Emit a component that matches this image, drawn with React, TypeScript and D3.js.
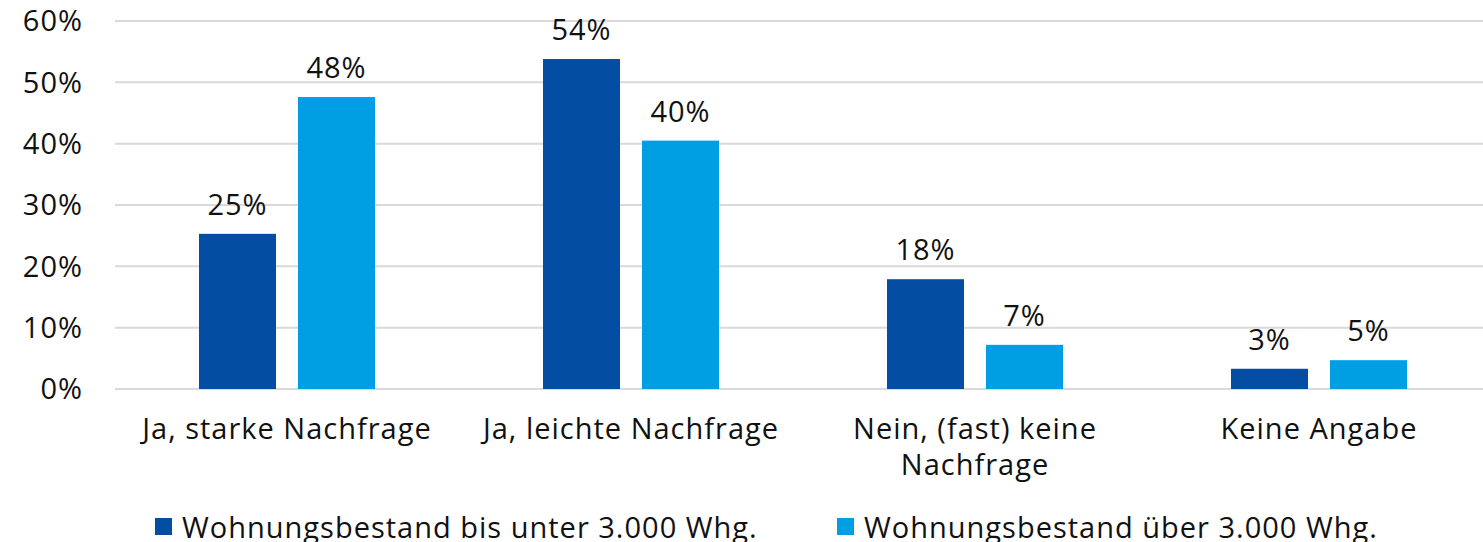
import React from "react";
import * as d3 from "d3";

const categories: string[][] = [
  ["Ja, starke Nachfrage"],
  ["Ja, leichte Nachfrage"],
  ["Nein, (fast) keine", "Nachfrage"],
  ["Keine Angabe"],
];
const seriesNames = [
  "Wohnungsbestand bis unter 3.000 Whg.",
  "Wohnungsbestand über 3.000 Whg.",
];
const seriesSmall = [25.3, 53.8, 17.9, 3.3];
const seriesLarge = [47.6, 40.5, 7.2, 4.7];
const labelsSmall = ["25%", "54%", "18%", "3%"];
const labelsLarge = ["48%", "40%", "7%", "5%"];
const yTicks = [0, 10, 20, 30, 40, 50, 60];
const colors = ["#034EA2", "#009FE3"];

const W = 1483;
const H = 542;
const FONT = "'Open Sans', sans-serif";
const FS = 29;
const LS = 1;

export default function App() {
  const x = d3.scaleBand<number>().domain(d3.range(categories.length)).range([115, 1491]).paddingInner(0).paddingOuter(0);
  const y = d3.scaleLinear().domain([0, 60]).range([389, 21]);
  const barW = 77;
  const gap = 22;
  const series = [seriesSmall, seriesLarge];
  const labels = [labelsSmall, labelsLarge];
  const offsets = [-gap / 2 - barW, gap / 2];

  return (
    <svg width={W} height={H} style={{ position: "absolute", left: 0, top: 0, background: "#fff" }} fontFamily={FONT} letterSpacing={LS}>
      {yTicks.map((t) => (
        <g key={t}>
          <line x1={115} x2={W} y1={y(t)} y2={y(t)} stroke="#d9d9d9" strokeWidth={2} />
          <text x={83} y={y(t)} dy="0.36em" textAnchor="end" fontSize={FS} fill="#111">
            {t}%
          </text>
        </g>
      ))}
      {categories.map((c, i) => {
        const cx = (x(i) as number) + x.bandwidth() / 2;
        return (
          <g key={i}>
            {series.map((s, si) => (
              <g key={si}>
                <rect x={cx + offsets[si]} y={y(s[i])} width={barW} height={y(0) - y(s[i])} fill={colors[si]} />
                <text x={cx + offsets[si] + barW / 2} y={y(s[i]) - 19} textAnchor="middle" fontSize={FS} fill="#111">
                  {labels[si][i]}
                </text>
              </g>
            ))}
            {c.map((line, li) => (
              <text key={li} x={cx} y={439 + li * 36} textAnchor="middle" fontSize={FS} fill="#111">
                {line}
              </text>
            ))}
          </g>
        );
      })}
      {seriesNames.map((n, i) => {
        const lx = [155, 837][i];
        return (
          <g key={i}>
            <rect x={lx} y={518} width={17} height={17} fill={colors[i]} />
            <text x={lx + 27} y={538} fontSize={FS} fill="#111">
              {n}
            </text>
          </g>
        );
      })}
    </svg>
  );
}
